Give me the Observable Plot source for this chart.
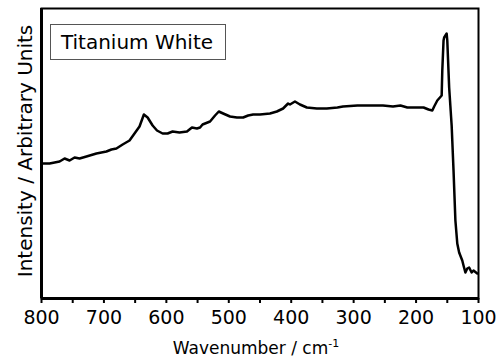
<!DOCTYPE html>
<html>
<head>
<meta charset="utf-8">
<script src="https://cdn.jsdelivr.net/npm/d3@7"></script>
<script src="https://cdn.jsdelivr.net/npm/@observablehq/plot@0.6"></script>
<style>
  html, body { margin: 0; padding: 0; background: #fff; }
  #chart { width: 499px; height: 364px; }
</style>
</head>
<body>
<div id="chart"></div>
<script>
// Raman spectrum
const wavenumber = [800, 787, 771, 763, 755, 747, 739, 728, 712, 696, 688, 680, 670, 659, 651, 643, 636, 630, 622, 615, 606, 598, 590, 579, 567, 559, 551, 546, 542, 530, 522, 516, 509, 498, 487, 477, 469, 461, 450, 434, 423, 413, 405, 402, 394, 386, 375, 359, 343, 326, 317, 294, 273, 253, 237, 225, 214, 198, 188, 180, 174, 171, 166, 159, 158, 156, 155, 151, 150, 147, 143, 140, 137, 134, 131, 126, 124, 121, 118, 115, 111, 108, 102];
const intensity  = [135, 135, 137, 140, 138, 141, 140, 142, 145, 147, 149, 150, 154, 158, 165, 172, 184, 181, 173, 168, 165, 165, 167, 166, 167, 171, 170, 171, 174, 177, 183, 187, 185, 182, 181, 181, 183, 184, 184, 185, 187, 190, 195, 194, 197, 194, 191, 190, 190, 191, 192, 193, 193, 193, 192, 193, 191, 191, 191, 189, 188, 192, 198, 203, 228, 258, 261, 265, 258, 211, 173, 128, 78, 55, 46, 38, 33, 26, 30, 31, 26, 28, 25];
const majorTicks = [800, 700, 600, 500, 400, 300, 200, 100];
const minorTicks = [750, 650, 550, 450, 350, 250, 150];
const seriesName = "Titanium White";
const xLabel = "Wavenumber / cm";
const xLabelSup = "-1";
const yLabel = "Intensity / Arbitrary Units";

const data = wavenumber.map((w, i) => ({wn: w, I: intensity[i]}));
const FONT = "'DejaVu Sans', sans-serif";

const plot = Plot.plot({
  width: 499,
  height: 364,
  marginLeft: 41,
  marginRight: 21,
  marginTop: 8,
  marginBottom: 66,
  style: {fontFamily: FONT, background: "#fff", color: "#000"},
  x: {domain: [800, 100]},
  y: {domain: [0, 290], axis: null},
  marks: [
    Plot.axisX({ticks: minorTicks, tickSize: 5, tickFormat: () => "", strokeWidth: 2, label: null}),
    Plot.axisX({ticks: majorTicks, tickSize: 5, tickPadding: 7, strokeWidth: 2, fontSize: 19, tickFormat: d => String(d), label: null}),
    Plot.line(data, {x: "wn", y: "I", stroke: "black", strokeWidth: 2.5, strokeLinejoin: "round"}),
    Plot.frame({stroke: "black", strokeWidth: 2}),
    Plot.ruleX([800], {stroke: "black", strokeWidth: 3}),
    Plot.ruleY([0], {stroke: "black", strokeWidth: 3})
  ]
});

document.getElementById("chart").appendChild(plot);

const svg = d3.select(plot);
// legend box
const lg = svg.append("g");
lg.append("rect").attr("x", 50.5).attr("y", 24.5).attr("width", 175).attr("height", 35)
  .attr("fill", "white").attr("stroke", "#555").attr("stroke-width", 1);
lg.append("text").attr("x", 137).attr("y", 49).attr("text-anchor", "middle")
  .attr("font-family", FONT).attr("font-size", 20).attr("fill", "black").text(seriesName);

// x label
const xl = svg.append("text").attr("x", 256).attr("y", 354).attr("text-anchor", "middle")
  .attr("font-family", FONT).attr("font-size", 17).attr("fill", "black");
xl.append("tspan").text(xLabel);
xl.append("tspan").attr("font-size", 11).attr("dy", -7).text(xLabelSup);

// y label
svg.append("text").attr("transform", "translate(32,151) rotate(-90)").attr("text-anchor", "middle")
  .attr("font-family", FONT).attr("font-size", 20).attr("fill", "black").text(yLabel);
</script>
</body>
</html>
